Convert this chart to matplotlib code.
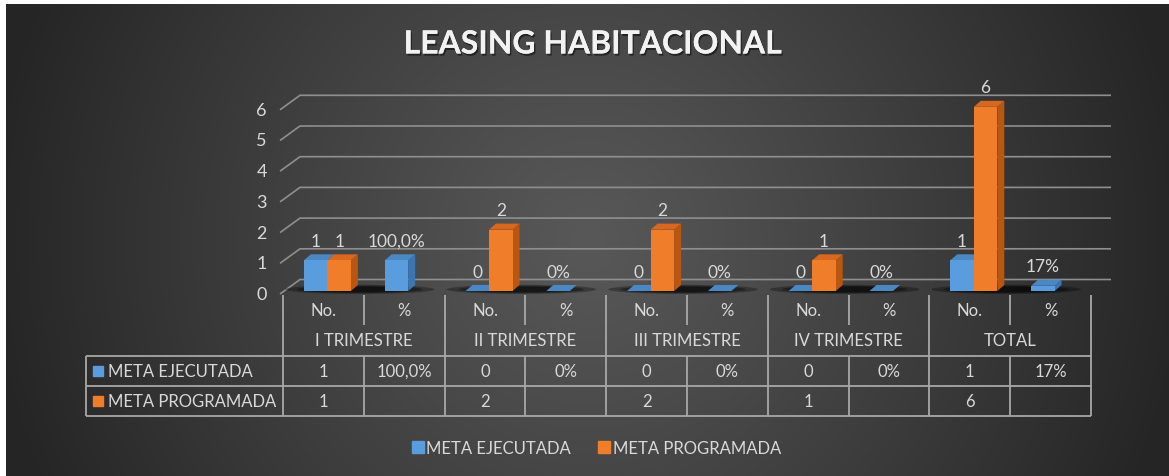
import numpy as np
import matplotlib.pyplot as plt
from matplotlib.patches import Polygon, Ellipse
from matplotlib.lines import Line2D
import matplotlib.patheffects as pe

plt.rcParams.update({'font.family': ['Lato', 'DejaVu Sans'], 'font.size': 12})

# %% data
grupos = ['I TRIMESTRE', 'II TRIMESTRE', 'III TRIMESTRE', 'IV TRIMESTRE', 'TOTAL']
subcols = ['No.', '%']
series = ['META EJECUTADA', 'META PROGRAMADA']
ejecutada_no = [1, 0, 0, 0, 1]
ejecutada_pct = [1.0, 0.0, 0.0, 0.0, 0.17]
programada_no = [1, 2, 2, 1, 6]
pct_labels = ['100,0%', '0%', '0%', '0%', '17%']
yticks = [0, 1, 2, 3, 4, 5, 6]

# %% colours
blue = dict(front='#5a9ddf', side='#3b76b0', top='#4a88c4')
orange = dict(front='#f07d2a', side='#b85612', top='#d8681e')
txt = '#d9d9d9'
grid_c = '#8f8f8f'
line_c = '#a8a8a8'

W, H = 1169, 477
fig = plt.figure(figsize=(W / 100, H / 100), dpi=100, facecolor='white')

def px_axes(x0, y0, x1, y1):
    a = fig.add_axes([x0 / W, 1 - y1 / H, (x1 - x0) / W, (y1 - y0) / H])
    a.set_axis_off()
    a.patch.set_alpha(0)
    return a

# %% background radial gradient
bg = px_axes(6, 5, W, H)
gx, gy = np.meshgrid(np.linspace(0, 1, 400), np.linspace(0, 1, 200))
r = np.sqrt(((gx - 0.5) / 0.52) ** 2 + ((gy - 0.5) / 1.3) ** 2)
r = np.clip(r, 0, 1) ** 1.1
c_in, c_out = np.array([0x58, 0x58, 0x58]) / 255, np.array([0x25, 0x25, 0x25]) / 255
img = c_in[None, None, :] + (c_out - c_in)[None, None, :] * r[:, :, None]
bg.imshow(img, extent=[0, 1, 0, 1], aspect='auto', zorder=0)
bg.set_xlim(0, 1)
bg.set_ylim(0, 1)

# %% chart area (front plane: 80.8 px per column, 30.7 px per unit)
col_px, unit_px = 80.8, 30.7
ax = px_axes(283, 295 - unit_px * 7, 1091, 295)
ax.set_xlim(0, 10)
ax.set_ylim(0, 7)

DX, DY = 20 / col_px, 14.5 / unit_px      # wall depth
w = 23.5 / col_px                           # bar width
fx, fy = 4 / col_px, 3 / unit_px            # bar front position
bdx, bdy = 7 / col_px, 6 / unit_px          # bar depth

for v in yticks:
    ax.plot([-3 / col_px, DX - 3 / col_px, 10 + DX], [v, v + DY, v + DY], color=grid_c,
            lw=1.2, clip_on=False, zorder=1, solid_capstyle='butt')
    ax.text(-0.2, v, str(v), ha='right', va='center', color=txt, fontsize=13)

# floor shadows
for g in range(5):
    for k, a in enumerate([0.3, 0.35, 0.4]):
        ax.add_patch(Ellipse((2 * g + 0.95, 0.15), 1.85 - 0.3 * k, 0.3 - 0.06 * k,
                             facecolor='black', edgecolor='none', alpha=a,
                             clip_on=False, zorder=2))

def bar3d(x0, v, c):
    y0 = fy
    x0 = x0 + fx
    ax.add_patch(Polygon([(x0 + w, y0), (x0 + w, y0 + v), (x0 + w + bdx, y0 + v + bdy),
                          (x0 + w + bdx, y0 + bdy)], closed=True, facecolor=c['side'],
                         edgecolor='none', clip_on=False, zorder=3))
    ax.add_patch(Polygon([(x0, y0 + v), (x0 + w, y0 + v), (x0 + w + bdx, y0 + v + bdy),
                          (x0 + bdx, y0 + v + bdy)], closed=True, facecolor=c['top'],
                         edgecolor='none', clip_on=False, zorder=3))
    ax.add_patch(Polygon([(x0, y0), (x0 + w, y0), (x0 + w, y0 + v), (x0, y0 + v)],
                         closed=True, facecolor=c['front'], edgecolor='none',
                         clip_on=False, zorder=3))
    return x0 + w / 2, y0 + v

def label(xy, s):
    ax.annotate(s, xy=xy, xytext=(0, 14), textcoords='offset points', ha='center',
                va='center', color=txt, fontsize=12.5, zorder=5)

for g in range(5):
    c_no, c_pct = 2 * g + 0.5, 2 * g + 1.5
    label(bar3d(c_no - w, ejecutada_no[g], blue), str(ejecutada_no[g]))
    label(bar3d(c_no, programada_no[g], orange), str(programada_no[g]))
    label(bar3d(c_pct - w, ejecutada_pct[g], blue), pct_labels[g])

# %% data table
tb = px_axes(86, 296, 1091, 417)
x_left = -(283 - 86) / col_px
tb.set_xlim(x_left, 10)
tb.set_ylim(4, 0)
lk = dict(color=line_c, lw=1.3, clip_on=False, solid_capstyle='butt')
for x in range(0, 11, 2):
    tb.plot([x, x], [0, 4], **lk)
for x in range(1, 10, 2):
    tb.plot([x, x], [0, 1], **lk)
    tb.plot([x, x], [2, 4], **lk)
for y in [2, 3, 4]:
    tb.plot([x_left, 10], [y, y], **lk)
tb.plot([x_left, x_left], [2, 4], **lk)

for c in range(10):
    tb.text(c + 0.5, 0.5, subcols[c % 2], ha='center', va='center', color=txt, fontsize=12)
for g in range(5):
    tb.text(2 * g + 1, 1.5, grupos[g], ha='center', va='center', color=txt, fontsize=12)
    tb.text(2 * g + 0.5, 2.5, str(ejecutada_no[g]), ha='center', va='center', color=txt, fontsize=12)
    tb.text(2 * g + 1.5, 2.5, pct_labels[g], ha='center', va='center', color=txt, fontsize=12)
    tb.text(2 * g + 0.5, 3.5, str(programada_no[g]), ha='center', va='center', color=txt, fontsize=12)

for i, (name, c) in enumerate(zip(series, [blue, orange])):
    tb.plot([x_left + 12 / col_px], [2.5 + i], marker='s', ms=7.5, color=c['front'],
            ls='', clip_on=False)
    tb.text(x_left + 22 / col_px, 2.5 + i, name, ha='left', va='center', color=txt, fontsize=12)

# %% legend and title
handles = [Line2D([], [], marker='s', ls='', ms=8, color=c['front'], label=n)
           for n, c in zip(series, [blue, orange])]
fig.legend(handles=handles, loc='center', bbox_to_anchor=(596 / W, 28 / H), ncol=2,
           frameon=False, labelcolor=txt, handletextpad=0.1, columnspacing=1.6,
           handlelength=0.8, fontsize=12)

fig.text(593.5 / W, 1 - 45 / H, 'LEASING HABITACIONAL', ha='center', va='center',
         fontsize=23, fontweight='bold', color='#f2f2f2',
         path_effects=[pe.withSimplePatchShadow(offset=(1, -1.5), shadow_rgbFace='black',
                                                alpha=0.5), pe.Normal()])

fig.savefig('out.png', dpi=100, facecolor='white')
